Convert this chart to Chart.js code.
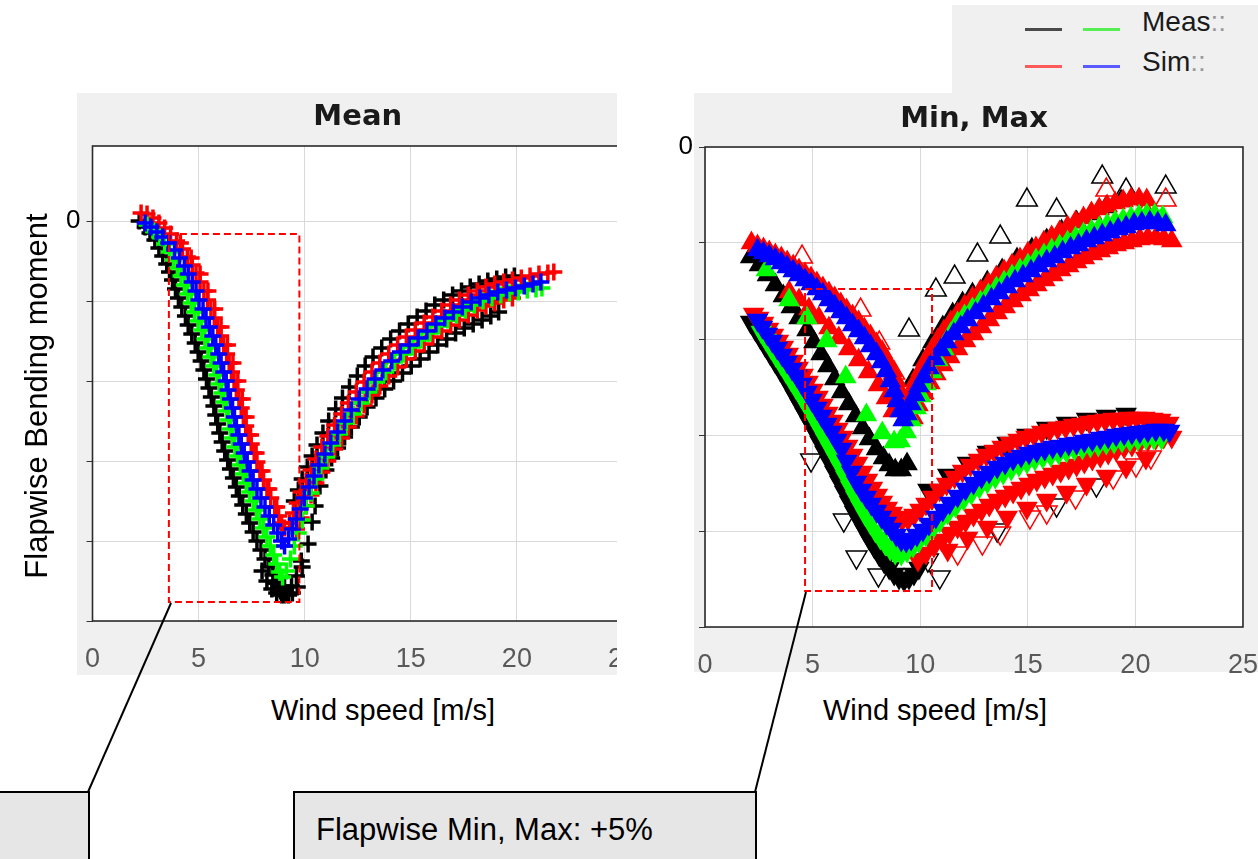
<!DOCTYPE html>
<html>
<head>
<meta charset="utf-8">
<title>Flapwise bending moment vs wind speed</title>
<script src="https://cdn.jsdelivr.net/npm/chart.js@4.4.1/dist/chart.umd.min.js"></script>
<style>
  body { margin: 0; width: 1258px; height: 859px; background: #fff; position: relative; overflow: hidden;
         font-family: "Liberation Sans", Arial, sans-serif; }
  .panel { position: absolute; background: #f0f0f0; }
  .clip { position: absolute; overflow: hidden; }
  .clip canvas { position: absolute; left: 0; top: 0; }
  .axis-title { position: absolute; transform: translate(-50%, -50%); white-space: nowrap; font-size: 29px; color: #000; }
  .legend { position: absolute; left: 952px; top: 5px; width: 306px; height: 88px; background: #f0f0f0; }
  .legend .ln { position: absolute; height: 3px; width: 37px; }
  .legend .lt { position: absolute; font-size: 28px; color: #1a1a1a; line-height: 30px; }
  .legend .lt i { font-style: normal; color: #9a9a9a; }
  .note { position: absolute; background: #e6e6e6; border: 2px solid #000; box-sizing: border-box; }
  .note span { position: absolute; left: 21px; top: 19px; font-size: 31px; line-height: 36px; color: #000; white-space: nowrap; }
  svg { position: absolute; left: 0; top: 0; }
</style>
</head>
<body>

<div class="panel" style="left:77px;top:93px;width:540px;height:582px"></div>
<div class="panel" style="left:694px;top:93px;width:564px;height:579px"></div>

<div class="clip" style="left:0;top:93px;width:617px;height:600px"><canvas id="meanChart" width="660" height="600"></canvas></div>
<div class="clip" style="left:660px;top:93px;width:598px;height:600px"><canvas id="minMaxChart" width="620" height="600"></canvas></div>

<div class="axis-title" style="left:383px;top:710px">Wind speed [m/s]</div>
<div class="axis-title" style="left:935px;top:710px">Wind speed [m/s]</div>
<div class="axis-title" style="left:37px;top:396px;font-size:31px;transform:translate(-50%,-50%) rotate(-90deg)">Flapwise Bending moment</div>

<div class="legend">
  <span class="ln" style="left:73px;top:23px;background:#4a4a4a"></span>
  <span class="ln" style="left:131px;top:23px;background:#55ee55"></span>
  <span class="ln" style="left:73px;top:60px;background:#ff5a5a"></span>
  <span class="ln" style="left:131px;top:60px;background:#5a5aff"></span>
  <span class="lt" style="left:190px;top:2px">Meas<i>::</i></span>
  <span class="lt" style="left:190px;top:42px">Sim<i>::</i></span>
</div>

<div class="note" style="left:-3px;top:791px;width:93px;height:80px"></div>
<div class="note" style="left:293px;top:791px;width:464px;height:80px"><span>Flapwise Min, Max: +5%</span></div>

<svg width="1258" height="859">
  <line x1="171" y1="603" x2="88" y2="792" stroke="#000" stroke-width="2"/>
  <line x1="806" y1="592" x2="755" y2="792" stroke="#000" stroke-width="2"/>
</svg>

<script>
// wind speed ticks (m/s) and moment gridlines; only the zero line carries a label
const xTicks = [0, 5, 10, 15, 20, 25];
const meanYTicks = [-400, -320, -240, -160, -80, 0];
const minMaxYTicks = [-480, -384, -288, -192, -96, 0];

// ---- Mean panel: [wind speed, moment] ----
const meanSimBlue = [[2.48,-2],[2.75,-6],[3.03,-11],[3.31,-16],[3.59,-22],[3.87,-29],[4.10,-37],[4.33,-45],[4.51,-53],
  [4.70,-61],[4.88,-70],[5.02,-79],[5.21,-88],[5.35,-97],[5.51,-106],[5.67,-115],[5.81,-124],[5.95,-133],[6.06,-142],
  [6.18,-151],[6.30,-160],[6.39,-169],[6.50,-178],[6.60,-187],[6.69,-196],[6.78,-205],[6.90,-214],[7.01,-223],
  [7.15,-232],[7.29,-241],[7.43,-250],[7.57,-259],[7.75,-268],[7.94,-277],[8.13,-286],[8.33,-295],[8.54,-304],
  [8.73,-312],[8.91,-320],[9.05,-325],
  [9.24,-318],[9.42,-308],[9.61,-298],[9.79,-288],[9.98,-277],[10.21,-266],[10.44,-255],[10.67,-244],[10.95,-233],
  [11.23,-222],[11.55,-211],[11.88,-200],[12.20,-189],[12.57,-178],[12.94,-168],[13.31,-158],[13.68,-149],
  [14.10,-140],[14.51,-131],[14.93,-124],[15.35,-117],[15.76,-110],[16.18,-103],[16.60,-97],[17.01,-91],[17.43,-86],
  [17.85,-81],[18.26,-77],[18.68,-74],[19.10,-71],[19.51,-69],[19.93,-67],[20.35,-65],[20.76,-63],[21.13,-61]];

const meanMeasGreen = [[2.57,-4],[2.89,-10],[3.17,-16],[3.40,-23],[3.63,-31],[3.82,-39],[4.00,-47],[4.17,-55],
  [4.33,-64],[4.49,-73],[4.65,-82],[4.81,-91],[4.98,-100],[5.14,-109],[5.30,-118],[5.44,-127],[5.58,-136],[5.72,-145],
  [5.86,-154],[5.97,-163],[6.09,-172],[6.20,-181],[6.32,-190],[6.41,-199],[6.50,-208],[6.60,-217],[6.71,-226],
  [6.83,-235],[6.97,-244],[7.11,-253],[7.25,-262],[7.41,-271],[7.57,-280],[7.73,-289],[7.89,-298],[8.06,-307],
  [8.22,-316],[8.38,-325],[8.54,-334],[8.68,-343],[8.82,-351],[8.96,-356],
  [9.14,-350],[9.33,-338],[9.51,-325],[9.70,-312],[9.88,-299],[10.07,-285],[10.30,-272],[10.53,-258],[10.76,-247],
  [11.04,-236],[11.32,-224],[11.64,-213],[11.97,-202],[12.29,-193],[12.66,-182],[13.03,-171],[13.40,-161],
  [13.82,-151],[14.24,-141],[14.65,-133],[15.07,-126],[15.49,-119],[15.90,-112],[16.32,-105],[16.74,-99],[17.15,-94],
  [17.57,-89],[17.99,-84],[18.40,-80],[18.82,-77],[19.24,-74],[19.65,-72],[20.07,-71],[20.49,-69],[20.90,-68],
  [21.18,-67]];

const meanSimRed = [[2.29,8],[2.57,7],[2.85,3],[3.13,-2],[3.40,-7],[3.68,-13],[3.96,-20],[4.24,-28],[4.47,-36],
  [4.70,-44],[4.88,-52],[5.07,-61],[5.25,-70],[5.42,-79],[5.58,-88],[5.74,-97],[5.90,-106],[6.04,-115],[6.18,-124],
  [6.32,-133],[6.44,-142],[6.55,-151],[6.67,-160],[6.78,-169],[6.90,-178],[7.01,-187],[7.11,-196],[7.22,-205],
  [7.34,-214],[7.48,-223],[7.62,-232],[7.75,-241],[7.89,-250],[8.06,-259],[8.22,-268],[8.40,-277],[8.59,-286],
  [8.77,-295],[8.91,-302],[9.05,-307],
  [4.14,-22],[4.65,-37],[5.07,-53],[5.44,-70],[5.76,-88],[6.06,-106],[6.36,-124],[6.62,-142],[6.85,-160],[7.06,-178],
  [7.24,-196],[7.45,-214],[7.71,-232],[7.99,-250],[8.31,-268],[8.68,-286],
  [9.28,-302],[9.47,-292],[9.65,-282],[9.84,-271],[10.07,-260],[10.30,-249],[10.53,-238],[10.81,-226],[11.09,-215],
  [11.41,-204],[11.74,-193],[12.06,-182],[12.43,-171],[12.80,-161],[13.17,-151],[13.54,-142],[13.96,-133],
  [14.38,-124],[14.79,-116],[15.21,-109],[15.63,-102],[16.04,-96],[16.46,-90],[16.88,-84],[17.29,-79],[17.71,-74],
  [18.13,-70],[18.54,-66],[18.96,-63],[19.38,-61],[19.79,-59],[20.21,-57],[20.62,-55],[21.04,-53],[21.46,-52],
  [21.74,-51],
  [9.61,-308],[9.84,-297],[10.07,-285],[10.30,-274],[10.53,-262],[10.81,-251],[11.09,-240],[11.41,-228],[11.74,-217],
  [12.06,-206],[12.43,-195],[12.80,-184],[13.17,-174],[13.54,-165],[13.96,-155],[14.38,-146],[14.79,-138],
  [15.21,-130],[15.63,-123],[16.04,-116],[16.46,-110],[16.88,-104],[17.29,-99],[17.71,-94],[18.13,-89],[18.54,-85],
  [18.96,-82],[19.38,-79],[19.79,-77]];

const meanMeasBlack = [[2.20,0],[2.48,-6],[2.71,-12],[2.94,-19],[3.13,-27],[3.31,-35],[3.50,-43],[3.63,-51],
  [3.77,-59],[3.91,-68],[4.05,-77],[4.21,-86],[4.38,-95],[4.51,-104],[4.68,-113],[4.84,-122],[4.98,-131],[5.12,-140],
  [5.25,-149],[5.37,-158],[5.49,-167],[5.60,-176],[5.72,-185],[5.81,-194],[5.90,-203],[6.00,-212],[6.11,-221],
  [6.23,-230],[6.37,-239],[6.50,-248],[6.64,-257],[6.78,-266],[6.92,-275],[7.08,-284],[7.25,-293],[7.41,-302],
  [7.57,-311],[7.75,-320],[7.94,-329],[8.13,-338],[8.31,-346],[8.50,-354],[8.68,-362],[8.87,-370],[9.05,-374],
  [9.24,-374],[9.42,-372],[9.65,-366],[9.88,-346],[10.16,-323],[10.35,-301],[10.49,-285],[10.72,-265],[11.00,-249],
  [11.27,-237],[11.55,-227],[11.88,-216],[12.20,-206],[12.57,-196],[12.94,-186],[13.36,-177],[13.77,-168],
  [14.19,-160],[14.61,-152],[15.02,-145],[15.44,-138],[15.86,-131],[16.27,-124],[16.69,-118],[17.11,-112],
  [17.52,-107],[17.94,-103],[18.36,-99],[18.77,-95],[19.14,-91],
  [9.51,-280],[9.70,-269],[9.88,-258],[10.12,-246],[10.35,-235],[10.58,-224],[10.86,-212],[11.13,-200],[11.46,-188],
  [11.78,-177],[12.11,-166],[12.48,-155],[12.85,-145],[13.22,-136],[13.63,-127],[14.05,-118],[14.47,-110],
  [14.88,-103],[15.30,-96],[15.72,-90],[16.13,-84],[16.55,-79],[16.97,-74],[17.39,-70],[17.80,-66],[18.22,-63],
  [18.63,-60],[19.05,-58],[19.47,-56],[19.88,-55],
  [8.45,-368],[8.68,-372],[8.91,-374],[9.14,-373],[8.22,-360],[9.38,-365],[9.61,-355],[9.05,-365],[8.59,-362],
  [7.99,-350],[9.84,-340],[8.82,-368]];

// ---- Min, Max panel: maxima (upper V) and minima (lower V) ----
const mmSimBlueMax = [[2.44,-103],[2.72,-106],[2.99,-109],[3.27,-112],[3.55,-116],[3.82,-120],[4.10,-124],[4.37,-128],
  [4.65,-133],[4.93,-137],[5.20,-142],[5.48,-147],[5.76,-153],[6.03,-159],[6.31,-165],[6.58,-171],[6.86,-178],
  [7.14,-184],[7.41,-191],[7.69,-199],[7.97,-207],[8.20,-215],[8.43,-224],[8.61,-234],[8.79,-244],[8.93,-254],
  [9.07,-264],[9.21,-273],[9.39,-267],[9.58,-257],[9.76,-248],[9.94,-239],[10.17,-230],[10.41,-221],[10.68,-212],
  [10.96,-203],[11.23,-195],[11.56,-187],[11.88,-180],[12.20,-173],[12.57,-166],[12.94,-159],[13.31,-152],
  [13.67,-146],[14.04,-140],[14.41,-134],[14.78,-129],[15.15,-124],[15.52,-119],[15.88,-114],[16.25,-110],
  [16.62,-105],[16.99,-101],[17.36,-98],[17.73,-94],[18.09,-91],[18.46,-88],[18.83,-85],[19.20,-82],[19.57,-80],
  [19.94,-77],[20.30,-76],[20.67,-75],[21.04,-76],[21.41,-78]];

const mmMeasGreenMax = [[2.85,-123],[3.91,-153],[4.74,-171],[5.66,-194],[6.54,-230],[7.50,-268],[8.24,-286],
  [8.79,-295],[9.07,-294],[9.35,-285],[9.58,-273],[9.81,-261],
  [10.04,-249],[10.27,-237],[10.54,-225],[10.82,-213],[11.10,-202],[11.42,-187],[11.74,-176],[12.06,-169],
  [12.43,-162],[12.80,-155],[13.17,-148],[13.54,-141],[13.90,-135],[14.27,-129],[14.64,-123],[15.01,-118],
  [15.38,-113],[15.75,-108],[16.11,-103],[16.48,-99],[16.85,-95],[17.22,-91],[17.59,-87],[17.96,-84],[18.32,-81],
  [18.69,-78],[19.06,-75],[19.43,-73],[19.80,-71],[20.17,-69],[20.53,-68],[20.90,-68],[21.27,-70]];

const mmSimRedMax = [[2.16,-96],[2.44,-99],[2.72,-102],[2.99,-105],[3.27,-108],[3.55,-111],[3.82,-115],[4.10,-119],
  [4.37,-123],[4.65,-127],[4.93,-131],[5.20,-136],[5.48,-141],[5.76,-146],[6.03,-151],[6.31,-157],[6.58,-163],
  [6.86,-169],[7.14,-175],[7.41,-182],[7.69,-189],[7.97,-197],[8.24,-205],[8.47,-214],[8.70,-224],[8.89,-234],
  [9.07,-245],[9.25,-256],[9.44,-253],[9.62,-243],[9.81,-233],[10.04,-223],[10.27,-213],[10.54,-203],[10.82,-193],
  [11.10,-184],[11.42,-175],[11.74,-167],[12.06,-159],[12.43,-151],[12.80,-144],[13.17,-137],[13.54,-130],
  [13.90,-124],[14.27,-118],[14.64,-112],[15.01,-106],[15.38,-101],[15.75,-95],[16.11,-90],[16.48,-85],[16.85,-80],
  [17.22,-75],[17.59,-71],[17.96,-66],[18.32,-62],[18.69,-59],[19.06,-56],[19.43,-54],[19.80,-52],[20.17,-52],
  [20.53,-53],
  [9.67,-271],[9.90,-258],[10.17,-246],[10.45,-236],[10.73,-227],[11.05,-218],[11.37,-210],[11.74,-202],[12.11,-194],
  [12.48,-187],[12.85,-180],[13.21,-173],[13.58,-166],[13.95,-160],[14.32,-154],[14.69,-148],[15.06,-143],
  [15.42,-138],[15.79,-133],[16.16,-128],[16.53,-123],[16.90,-119],[17.27,-115],[17.63,-111],[18.00,-107],
  [18.37,-104],[18.74,-101],[19.11,-98],[19.48,-96],[19.84,-94],[20.21,-92],[20.58,-91],[20.95,-91],[21.32,-92],
  [21.69,-94],
  [3.91,-145],[4.37,-153],[4.83,-162],[5.29,-171],[5.76,-181],[6.22,-191],[6.68,-202],[7.14,-213],[7.60,-225],
  [8.06,-238],[8.43,-251],[8.75,-264]];

const mmSimRedMaxOut = [[4.51,-110],[7.23,-163],[8.10,-196],[8.79,-226],[18.65,-43],[20.49,-65],[21.41,-53]];

const mmMeasBlackMax = [[2.12,-110],[2.53,-118],[2.90,-128],[3.27,-138],[3.64,-149],[4.01,-160],[4.37,-171],
  [4.74,-183],[5.06,-195],[5.39,-207],[5.71,-219],[6.03,-232],[6.35,-245],[6.68,-257],[7.00,-269],[7.32,-281],
  [7.64,-292],[7.97,-302],[8.29,-311],[8.56,-318],[8.84,-323],[9.12,-323],[9.39,-317],
  [9.67,-233],[10.13,-213],[10.59,-195],[11.05,-180],[11.51,-167],[11.97,-156],[12.43,-147],[13.12,-135],
  [13.81,-123],[14.50,-112],[15.19,-102],[15.88,-93],[16.57,-84],[17.27,-75],[17.96,-67],[18.65,-60],[19.34,-54]];

const mmMeasBlackMaxOut = [[9.48,-183],[10.73,-143],[11.60,-130],[12.66,-108],[13.72,-90],[14.96,-53],[16.34,-63],
  [18.46,-30],[19.57,-43],[21.41,-40]];

const mmSimBlueMin = [[2.44,-173],[2.67,-180],[2.90,-187],[3.13,-194],[3.36,-201],[3.59,-208],[3.82,-215],[4.05,-222],
  [4.28,-229],[4.51,-237],[4.74,-245],[4.97,-253],[5.20,-261],[5.43,-269],[5.66,-277],[5.89,-285],[6.12,-293],
  [6.35,-302],[6.58,-314],[6.81,-325],[7.04,-335],[7.27,-343],[7.50,-350],[7.73,-357],[7.97,-364],[8.20,-370],
  [8.43,-376],[8.66,-382],[8.89,-388],[9.12,-393],[9.35,-394],[9.58,-392],[9.85,-388],[10.13,-383],[10.41,-377],
  [10.73,-370],[11.05,-363],[11.37,-356],[11.74,-349],[12.11,-342],[12.48,-336],[12.85,-330],[13.21,-325],
  [13.58,-320],[13.95,-316],[14.32,-312],[14.69,-309],[15.06,-306],[15.42,-304],[15.79,-302],[16.16,-300],
  [16.53,-299],[16.90,-297],[17.27,-296],[17.63,-294],[18.00,-293],[18.37,-291],[18.74,-290],[19.11,-288],
  [19.48,-287],[19.84,-286],[20.21,-285],[20.58,-284],[20.95,-283],[21.32,-283],[21.59,-284]];

const mmMeasGreenMin = [[2.62,-185],[2.85,-193],[3.08,-201],[3.31,-209],[3.55,-217],[3.78,-225],[4.01,-233],
  [4.24,-241],[4.47,-249],[4.70,-257],[4.93,-266],[5.16,-275],[5.39,-284],[5.62,-293],[5.85,-302],[6.08,-311],
  [6.31,-320],[6.54,-330],[6.77,-340],[7.00,-350],[7.23,-359],[7.46,-368],[7.69,-376],[7.92,-384],[8.15,-391],
  [8.38,-397],[8.61,-402],[8.84,-406],[9.12,-407],[9.39,-404],[9.67,-399],[9.94,-394],[10.27,-388],[10.59,-381],
  [10.91,-374],[11.28,-366],[11.65,-359],[12.02,-352],[12.38,-346],[12.75,-340],[13.12,-335],[13.49,-330],
  [13.86,-326],[14.23,-322],[14.59,-318],[14.96,-315],[15.33,-312],[15.70,-310],[16.07,-308],[16.44,-306],
  [16.80,-304],[17.17,-302],[17.54,-301],[17.91,-299],[18.28,-298],[18.65,-296],[19.01,-295],[19.38,-294],
  [19.75,-293],[20.12,-292],[20.49,-291],[20.86,-291],[21.22,-291]];

const mmSimRedMin = [[2.26,-167],[2.49,-171],[2.72,-176],[2.95,-182],[3.18,-188],[3.41,-194],[3.64,-200],[3.87,-207],
  [4.10,-214],[4.33,-221],[4.56,-228],[4.79,-235],[5.02,-243],[5.25,-250],[5.48,-258],[5.71,-266],[5.94,-274],
  [6.17,-282],[6.40,-290],[6.63,-299],[6.86,-308],[7.09,-316],[7.32,-325],[7.55,-333],[7.78,-341],[8.01,-348],
  [8.24,-355],[8.47,-361],[8.70,-366],[8.93,-370],[9.16,-373],[9.44,-372],[9.71,-368],[9.99,-363],[10.27,-357],
  [10.59,-350],[10.91,-343],[11.23,-337],[11.60,-330],[11.97,-324],[12.34,-318],[12.71,-313],[13.08,-308],
  [13.44,-304],[13.81,-300],[14.18,-296],[14.55,-293],[14.92,-290],[15.29,-288],[15.65,-285],[16.02,-283],
  [16.39,-281],[16.76,-280],[17.13,-278],[17.50,-277],[17.86,-275],[18.23,-274],[18.60,-273],[18.97,-272],
  [19.34,-272],[19.71,-271],[20.07,-271],[20.44,-271],[20.81,-272],[21.18,-273],[21.55,-276],
  [9.90,-413],[10.27,-406],[10.64,-399],[11.00,-393],[11.37,-386],[11.74,-380],[12.11,-374],[12.48,-368],
  [12.85,-363],[13.21,-358],[13.58,-353],[13.95,-349],[14.32,-345],[14.69,-341],[15.06,-337],[15.42,-333],
  [15.79,-330],[16.16,-327],[16.53,-324],[16.90,-321],[17.27,-318],[17.63,-315],[18.00,-312],[18.37,-309],
  [18.74,-306],[19.11,-303],[19.48,-300],[19.84,-298],[20.21,-295],[20.58,-293],[20.95,-291],[21.32,-290],
  [21.69,-290],
  [11.28,-403],[12.20,-391],[13.12,-380],[14.04,-370],[14.96,-361],[15.88,-353],[16.80,-345],[17.73,-337],
  [18.65,-329],[19.57,-320],[20.49,-311]];

const mmSimRedMinOut = [[11.74,-406],[12.89,-396],[13.72,-386],[15.10,-370],[15.88,-365],[17.22,-350],[18.97,-330],
  [20.03,-318],[20.72,-310]];

const mmMeasBlackMin = [[2.12,-175],[2.35,-183],[2.58,-191],[2.81,-199],[3.04,-207],[3.27,-215],[3.50,-223],
  [3.73,-231],[3.96,-240],[4.19,-249],[4.42,-258],[4.65,-267],[4.88,-276],[5.11,-285],[5.34,-295],[5.57,-305],
  [5.80,-315],[6.03,-325],[6.26,-335],[6.49,-345],[6.72,-355],[6.95,-365],[7.18,-374],[7.41,-383],[7.64,-392],
  [7.87,-400],[8.10,-408],[8.33,-415],[8.56,-421],[8.79,-427],[9.02,-431],[9.25,-433],[9.48,-431],[9.71,-427],
  [9.94,-421],
  [10.36,-343],[11.28,-328],[12.20,-316],[13.12,-305],[14.04,-296],[14.96,-288],[15.88,-281],[16.80,-276],
  [17.73,-272],[18.65,-269],[19.57,-267]];

const mmMeasBlackMinOut = [[4.93,-313],[6.45,-373],[7.04,-410],[8.06,-428],[10.36,-413],[10.91,-430],[13.58,-383],
  [16.34,-358],[18.19,-338]];

// dashed zoom boxes, in axis units
const meanZoomBox = { x0: 3.6, x1: 9.75, y0: -13, y1: -381 };
const minMaxZoomBox = { x0: 4.65, x1: 10.55, y0: -142, y1: -444 };

const BLACK = '#000000', RED = '#ff0000', GREEN = '#00ff00', BLUE = '#0000ff';

// white plot box with a dark frame
const frame = {
  id: 'frame',
  beforeDraw(chart) {
    const { ctx, chartArea: a } = chart;
    ctx.save();
    ctx.fillStyle = '#fff';
    ctx.fillRect(a.left, a.top, a.width, a.height);
    ctx.restore();
  },
  afterDraw(chart) {
    const { ctx, chartArea: a } = chart;
    ctx.save();
    ctx.strokeStyle = '#2b2b2b';
    ctx.lineWidth = 1.6;
    ctx.strokeRect(a.left, a.top, a.width, a.height);
    ctx.restore();
  }
};

// red dashed rectangle around the region of interest
const zoomBox = {
  id: 'zoomBox',
  afterDatasetsDraw(chart, args, o) {
    const { ctx, scales: { x, y } } = chart;
    const l = x.getPixelForValue(o.x0), r = x.getPixelForValue(o.x1);
    const t = y.getPixelForValue(o.y0), b = y.getPixelForValue(o.y1);
    ctx.save();
    ctx.strokeStyle = RED;
    ctx.lineWidth = 2;
    ctx.setLineDash([7, 4]);
    ctx.strokeRect(l, t, r - l, b - t);
    ctx.restore();
  }
};

function marks(data, color, style, extra) {
  return Object.assign({
    data, showLine: false, pointStyle: style,
    borderColor: color, backgroundColor: color,
    pointBorderColor: color, pointBackgroundColor: color
  }, extra);
}

function cross(data, color) {
  return marks(data, color, 'cross', { pointRadius: 8.5, pointBorderWidth: 3.5 });
}
function tri(data, color, down) {
  return marks(data, color, 'triangle', { pointRadius: 11, pointBorderWidth: 1.5, pointRotation: down ? 180 : 0 });
}
function hollowTri(data, color, down) {
  return marks(data, color, 'triangle', {
    pointRadius: 12, pointBorderWidth: 1.5, pointRotation: down ? 180 : 0,
    pointBackgroundColor: 'rgba(0,0,0,0)'
  });
}

function scales(yMin, yMax, yTicks, yWidth, xHeight) {
  return {
    x: {
      type: 'linear', min: 0, max: 25,
      afterBuildTicks: s => { s.ticks = xTicks.map(v => ({ value: v })); },
      afterFit: s => { s.height = xHeight; },
      grid: { color: '#d9d9d9', drawTicks: false },
      border: { display: false },
      ticks: { padding: 22, color: '#595959', maxRotation: 0, autoSkip: false,
               font: { family: 'Liberation Sans', size: 27 } }
    },
    y: {
      type: 'linear', min: yMin, max: yMax,
      afterBuildTicks: s => { s.ticks = yTicks.map(v => ({ value: v })); },
      afterFit: s => { s.width = yWidth; },
      grid: { color: '#d9d9d9', tickLength: 6, tickColor: '#333' },
      border: { display: false },
      ticks: { padding: 6, color: '#000', font: { family: 'Liberation Sans', size: 26 },
               callback: v => (v === 0 ? '0' : '') }
    }
  };
}

function titleOpts(text, top, bottom) {
  return { display: true, text, fullSize: false, color: '#1a1a1a', padding: { top, bottom },
           font: { family: 'DejaVu Sans', size: 29, weight: 'bold', lineHeight: 1.2 } };
}

Chart.defaults.animation = false;

new Chart(document.getElementById('meanChart'), {
  type: 'scatter',
  data: {
    datasets: [
      cross(meanSimBlue, BLUE),
      cross(meanMeasGreen, GREEN),
      cross(meanSimRed, RED),
      cross(meanMeasBlack, BLACK)
    ]
  },
  options: {
    responsive: false,
    layout: { padding: { left: 0, right: 27.5, top: 0, bottom: 0 } },
    scales: scales(-400, 75, meanYTicks, 92.5, 72),
    plugins: {
      legend: { display: false },
      tooltip: { enabled: false },
      title: titleOpts('Mean', 6.6, 11.6),
      zoomBox: meanZoomBox
    },
    events: []
  },
  plugins: [frame, zoomBox]
});

new Chart(document.getElementById('minMaxChart'), {
  type: 'scatter',
  data: {
    datasets: [
      tri(mmSimBlueMax, BLUE, false),
      tri(mmSimBlueMin, BLUE, true),
      tri(mmMeasGreenMax, GREEN, false),
      tri(mmMeasGreenMin, GREEN, true),
      hollowTri(mmSimRedMaxOut, RED, false),
      hollowTri(mmSimRedMinOut, RED, true),
      tri(mmSimRedMax, RED, false),
      tri(mmSimRedMin, RED, true),
      hollowTri(mmMeasBlackMaxOut, BLACK, false),
      hollowTri(mmMeasBlackMinOut, BLACK, true),
      tri(mmMeasBlackMax, BLACK, false),
      tri(mmMeasBlackMin, BLACK, true)
    ]
  },
  options: {
    responsive: false,
    layout: { padding: { left: 0, right: 32, top: 0, bottom: 0 } },
    scales: scales(-480, 0, minMaxYTicks, 45, 66),
    plugins: {
      legend: { display: false },
      tooltip: { enabled: false },
      title: titleOpts('Min, Max', 8.6, 10.6),
      zoomBox: minMaxZoomBox
    },
    events: []
  },
  plugins: [frame, zoomBox]
});
</script>
</body>
</html>
